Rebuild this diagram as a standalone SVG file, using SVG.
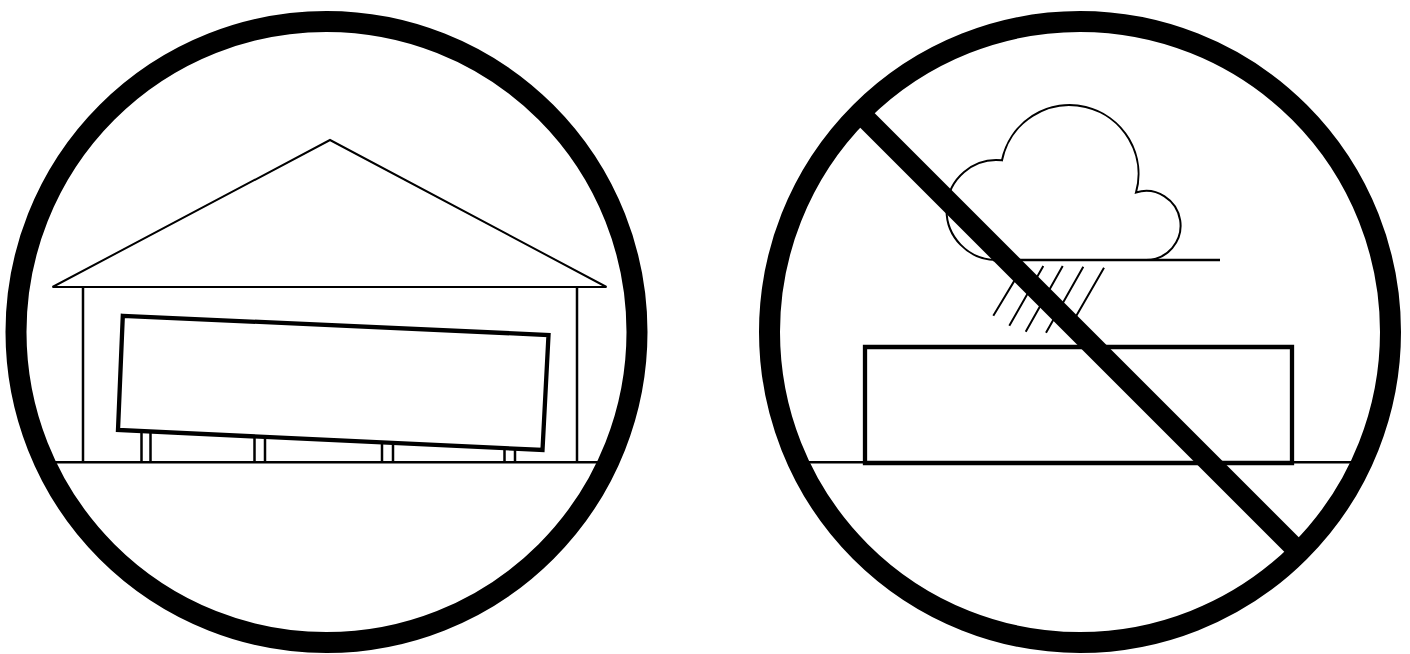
<svg xmlns="http://www.w3.org/2000/svg" width="1410" height="654" viewBox="0 0 1410 654">
<style>
.thin{fill:none;stroke:#000;stroke-width:2}
.mid{fill:none;stroke:#000;stroke-width:2.500}
.box{fill:none;stroke:#000;stroke-width:4.300}
.ring{fill:none;stroke:#000;stroke-width:21}
.bar{fill:none;stroke:#000;stroke-width:20.500}
</style>
<rect width="1410" height="654" fill="#fff"/>
<g id="left-sign">
<path class="thin" d="M52.500 287L330 140L606.500 287Z"/>
<path class="mid" d="M83 287V462M577 287V462"/>
<path class="mid" d="M45 462.300H610"/>
<path class="mid" d="M141.500 432V462M150.500 432V462M254.500 437V462M265 438V462M382 443V462M393 443V462M504.500 449V462M515 449V462"/>
<path class="box" d="M122.800 315.800L548.500 335L542.500 450L118 430Z"/>
<circle class="ring" cx="326.500" cy="332" r="310.500"/>
</g>
<g id="right-sign">
<path class="mid" d="M795 462.300H1365"/>
<path class="box" d="M865 347H1292V463H865Z"/>
<path class="mid" d="M993 260H1220"/>
<path class="thin" d="M997 260A50 50 0 1 1 1002 160.300A68.950 68.950 0 1 1 1136 192.500A34.500 34.500 0 1 1 1146 260"/>
<path class="thin" d="M1023.300 266L993.300 315.700M1043.300 266L1009.300 325.700M1062.700 266L1025.700 331.700M1083.300 266.700L1046 332.700M1104 267.700L1070 326.700"/>
<path class="bar" d="M860 113L1295 548"/>
<circle class="ring" cx="1080" cy="332" r="310.500"/>
</g>
</svg>
